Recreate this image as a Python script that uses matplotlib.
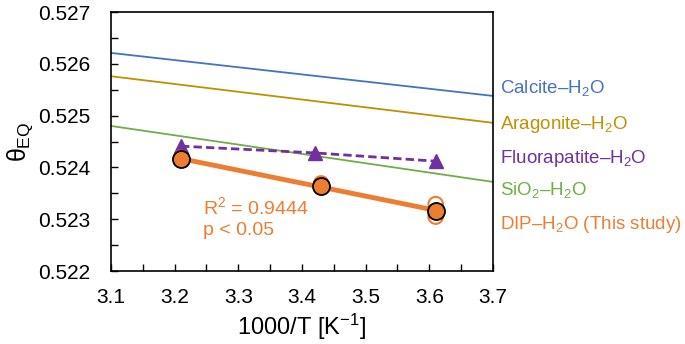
import matplotlib.pyplot as plt
import numpy as np

plt.rcParams['font.family'] = ['Liberation Sans', 'DejaVu Sans']
plt.rcParams['mathtext.fontset'] = 'custom'
plt.rcParams['mathtext.rm'] = 'Liberation Sans'
plt.rcParams['mathtext.it'] = 'Liberation Sans'

# reference mineral-water lines (end points at 3.1 and 3.7)
line_x = [3.1, 3.7]
calcite = [0.52621, 0.52538]
aragonite = [0.52576, 0.52486]
sio2 = [0.52480, 0.52372]

# fluorapatite
fa_x = [3.21, 3.42, 3.61]
fa_y = [0.52441, 0.52428, 0.52412]

# DIP (this study) means and replicates
dip_x = [3.21, 3.43, 3.61]
dip_y = [0.52416, 0.52364, 0.52316]
rep_x = [3.21, 3.43, 3.61, 3.61]
rep_y = [0.52418, 0.52369, 0.52329, 0.52305]

c_blue = '#4472C4'
c_gold = '#BF9000'
c_green = '#70AD47'
c_purple = '#7030A0'
c_orange = '#ED7D31'

fig = plt.figure(figsize=(6.85, 3.44), dpi=100)
ax = fig.add_axes([111/685, 1 - 271/344, (493-111)/685, (271-12)/344])

ax.plot(line_x, calcite, color=c_blue, lw=1.3)
ax.plot(line_x, aragonite, color=c_gold, lw=1.3)
ax.plot(line_x, sio2, color=c_green, lw=1.3)

ax.plot(fa_x, fa_y, color=c_purple, lw=2, ls=(0, (3, 1.5)), marker='^',
        ms=10, mec=c_purple, zorder=4)

fit = np.polyfit(dip_x, dip_y, 1)
ax.plot([dip_x[0], dip_x[-1]], np.polyval(fit, [dip_x[0], dip_x[-1]]),
        color=c_orange, lw=3.5, zorder=5)
ax.scatter(rep_x, rep_y, s=110, facecolors='none', edgecolors=c_orange,
           linewidths=1.5, zorder=5)
ax.scatter(dip_x, dip_y, s=150, color=c_orange, edgecolors='black',
           linewidths=1.3, zorder=6)

ax.text(3.2445, 0.52324, 'R$^2$ = 0.9444', color=c_orange, fontsize=14, va='center')
ax.text(3.2445, 0.52279, 'p < 0.05', color=c_orange, fontsize=14, va='center')

ax.set_xlim(3.1, 3.7)
ax.set_ylim(0.522, 0.527)
ax.set_xticks(np.arange(3.1, 3.71, 0.1))
ax.set_xticks(np.arange(3.15, 3.7, 0.1), minor=True)
ax.set_yticks(np.arange(0.522, 0.5271, 0.001))
ax.set_yticks(np.arange(0.5225, 0.527, 0.001), minor=True)
ax.yaxis.set_major_formatter(plt.FormatStrFormatter('%.3f'))
ax.xaxis.set_major_formatter(plt.FormatStrFormatter('%.1f'))
ax.tick_params(which='both', direction='in', length=5, width=1, labelsize=15)
ax.tick_params(axis='x', pad=12)
ax.tick_params(axis='y', pad=15)
for s in ax.spines.values():
    s.set_linewidth(1.2)

ax.set_xlabel('1000/T [K$^{-1}$]', fontsize=17, labelpad=4)
ax.set_ylabel(r'$\theta_{\mathrm{EQ}}$', fontsize=18, labelpad=2)

labels = ['Calcite\u2013H$_2$O', 'Aragonite\u2013H$_2$O', 'Fluorapatite\u2013H$_2$O',
          'SiO$_2$\u2013H$_2$O', 'DIP\u2013H$_2$O (This study)']
label_y = [0.52553, 0.52482, 0.52418, 0.52356, 0.52289]
label_c = [c_blue, c_gold, c_purple, c_green, c_orange]
for t, yv, c in zip(labels, label_y, label_c):
    ax.text(3.711, yv, t, color=c, fontsize=13.5, va='center', clip_on=False)

fig.savefig('out.png', dpi=100)
